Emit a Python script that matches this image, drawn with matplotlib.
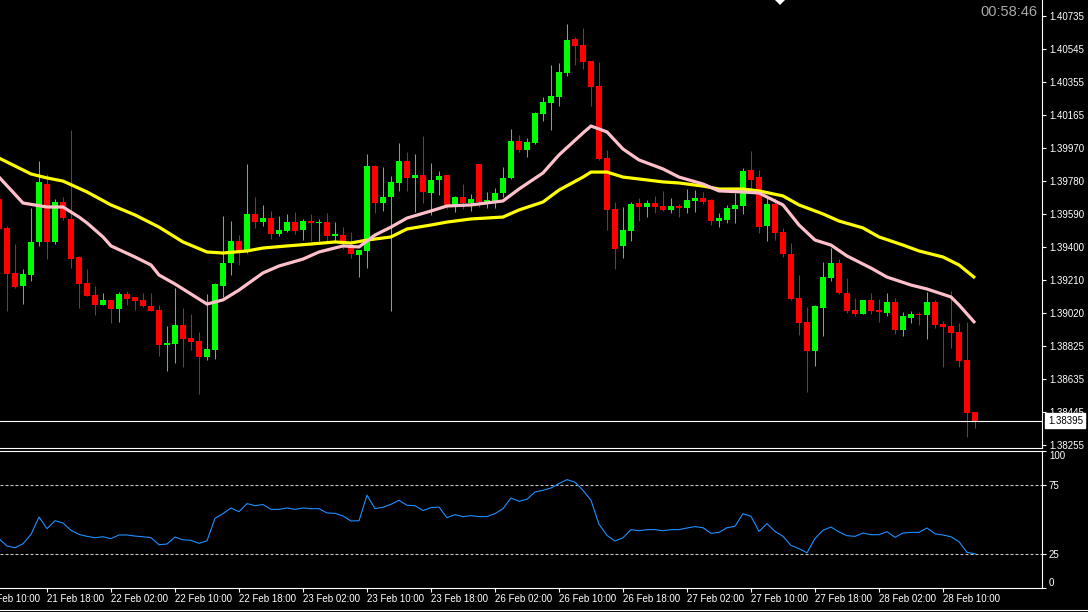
import matplotlib
matplotlib.use('Agg')
import matplotlib.pyplot as plt
from matplotlib.patches import Polygon
from matplotlib.lines import Line2D
from matplotlib.transforms import blended_transform_factory

plt.rcParams['font.family'] = ['Liberation Sans', 'DejaVu Sans']

# ---------------- data (H1 candles, 21 Feb 12:00 .. 28 Feb 14:00) ----------------
opens = [1.39677, 1.39510, 1.39250, 1.39174, 1.39238, 1.39429, 1.39764, 1.39429, 1.39660, 1.39562,
         1.39342, 1.39192, 1.39122, 1.39065, 1.39094, 1.39042, 1.39128, 1.39111, 1.39094, 1.39059,
         1.39036, 1.38833, 1.38839, 1.38949, 1.38874, 1.38857, 1.38764, 1.38805, 1.39174, 1.39307,
         1.39435, 1.39377, 1.39591, 1.39544, 1.39567, 1.39475, 1.39492, 1.39544, 1.39498, 1.39550,
         1.39539, 1.39544, 1.39463, 1.39469, 1.39400, 1.39354, 1.39377, 1.39868, 1.39654, 1.39689,
         1.39770, 1.39897, 1.39799, 1.39816, 1.39712, 1.39787, 1.39816, 1.39648, 1.39689, 1.39654,
         1.39880, 1.39660, 1.39666, 1.39712, 1.39799, 1.40013, 1.39961, 1.40001, 1.40169, 1.40232,
         1.40267, 1.40406, 1.40602, 1.40567, 1.40475, 1.40330, 1.39914, 1.39620, 1.39406, 1.39492,
         1.39654, 1.39631, 1.39654, 1.39637, 1.39614, 1.39637, 1.39625, 1.39666, 1.39683, 1.39672,
         1.39550, 1.39556, 1.39620, 1.39637, 1.39845, 1.39804, 1.39521, 1.39648, 1.39487, 1.39359,
         1.39105, 1.38966, 1.38799, 1.39047, 1.39221, 1.39307, 1.39134, 1.39036, 1.39013, 1.39094,
         1.39036, 1.39018, 1.39082, 1.38920, 1.38990, 1.39013, 1.39007, 1.39082, 1.38955, 1.38943,
         1.38909, 1.38747, 1.38446]
highs = [1.39700, 1.39521, 1.39417, 1.39273, 1.39625, 1.39897, 1.39822, 1.39677, 1.39689, 1.40076,
         1.39345, 1.39273, 1.39174, 1.39134, 1.39096, 1.39140, 1.39146, 1.39113, 1.39134, 1.39134,
         1.39065, 1.38943, 1.39163, 1.39047, 1.39013, 1.38909, 1.39128, 1.39192, 1.39579, 1.39550,
         1.39469, 1.39880, 1.39689, 1.39643, 1.39608, 1.39579, 1.39591, 1.39602, 1.39562, 1.39591,
         1.39562, 1.39596, 1.39544, 1.39515, 1.39487, 1.39385, 1.39937, 1.39874, 1.39862, 1.39810,
         1.40001, 1.39949, 1.39937, 1.40041, 1.39885, 1.39839, 1.39818, 1.39695, 1.39764, 1.39706,
         1.39882, 1.39718, 1.39741, 1.39862, 1.40082, 1.40047, 1.40030, 1.40180, 1.40267, 1.40452,
         1.40463, 1.40689, 1.40614, 1.40666, 1.40477, 1.40469, 1.39961, 1.39660, 1.39631, 1.39660,
         1.39683, 1.39672, 1.39695, 1.39724, 1.39683, 1.39648, 1.39735, 1.39729, 1.39718, 1.39677,
         1.39596, 1.39643, 1.39712, 1.39857, 1.39955, 1.39845, 1.39695, 1.39683, 1.39510, 1.39423,
         1.39238, 1.39053, 1.39065, 1.39313, 1.39394, 1.39330, 1.39221, 1.39105, 1.39096, 1.39134,
         1.39099, 1.39134, 1.39105, 1.39024, 1.39030, 1.39024, 1.39140, 1.39094, 1.38972, 1.39146,
         1.38961, 1.38966, 1.38448]
lows = [1.39487, 1.39030, 1.39165, 1.39070, 1.39203, 1.39406, 1.39330, 1.39417, 1.39556, 1.39278,
        1.39047, 1.39115, 1.39007, 1.39063, 1.38961, 1.38966, 1.39065, 1.39036, 1.39053, 1.39028,
        1.38770, 1.38683, 1.38729, 1.38706, 1.38805, 1.38550, 1.38747, 1.38753, 1.39111, 1.39238,
        1.39296, 1.39365, 1.39510, 1.39521, 1.39446, 1.39463, 1.39487, 1.39475, 1.39440, 1.39435,
        1.39435, 1.39435, 1.39429, 1.39388, 1.39336, 1.39226, 1.39278, 1.39596, 1.39608, 1.39030,
        1.39724, 1.39724, 1.39602, 1.39654, 1.39585, 1.39700, 1.39620, 1.39602, 1.39620, 1.39608,
        1.39631, 1.39625, 1.39625, 1.39689, 1.39795, 1.39949, 1.39920, 1.39995, 1.40128, 1.40076,
        1.40215, 1.40388, 1.40452, 1.40429, 1.40215, 1.39905, 1.39498, 1.39273, 1.39336, 1.39435,
        1.39550, 1.39573, 1.39596, 1.39608, 1.39596, 1.39573, 1.39596, 1.39602, 1.39648, 1.39527,
        1.39515, 1.39539, 1.39539, 1.39591, 1.39729, 1.39481, 1.39435, 1.39440, 1.39342, 1.39094,
        1.38891, 1.38562, 1.38712, 1.38885, 1.39203, 1.39130, 1.39018, 1.39001, 1.39011, 1.39013,
        1.38966, 1.39001, 1.38897, 1.38885, 1.38961, 1.38949, 1.38868, 1.38932, 1.38706, 1.38816,
        1.38706, 1.38302, 1.38354]
closes = [1.39504, 1.39244, 1.39169, 1.39244, 1.39429, 1.39776, 1.39429, 1.39660, 1.39567, 1.39330,
          1.39186, 1.39117, 1.39065, 1.39094, 1.39042, 1.39128, 1.39099, 1.39088, 1.39059, 1.39030,
          1.38833, 1.38845, 1.38949, 1.38868, 1.38851, 1.38764, 1.38810, 1.39186, 1.39307, 1.39435,
          1.39377, 1.39591, 1.39544, 1.39567, 1.39475, 1.39498, 1.39544, 1.39492, 1.39550, 1.39539,
          1.39544, 1.39463, 1.39475, 1.39435, 1.39359, 1.39383, 1.39868, 1.39654, 1.39689, 1.39776,
          1.39897, 1.39799, 1.39816, 1.39718, 1.39787, 1.39810, 1.39643, 1.39689, 1.39654, 1.39677,
          1.39660, 1.39672, 1.39712, 1.39799, 1.40013, 1.39961, 1.40007, 1.40174, 1.40238, 1.40273,
          1.40411, 1.40596, 1.40562, 1.40469, 1.40325, 1.39909, 1.39614, 1.39388, 1.39498, 1.39648,
          1.39631, 1.39654, 1.39631, 1.39614, 1.39637, 1.39625, 1.39672, 1.39683, 1.39660, 1.39550,
          1.39567, 1.39625, 1.39643, 1.39839, 1.39787, 1.39515, 1.39648, 1.39481, 1.39359, 1.39099,
          1.38961, 1.38799, 1.39059, 1.39226, 1.39307, 1.39134, 1.39030, 1.39013, 1.39094, 1.39030,
          1.39024, 1.39082, 1.38920, 1.39001, 1.39013, 1.39007, 1.39082, 1.38949, 1.38937, 1.38903,
          1.38741, 1.38440, 1.38395]

# slow moving average (yellow), read at bar indices
ma_slow_idx = [0, 4, 6, 8, 11, 14, 17, 20, 23, 26, 28, 31, 33, 36, 39, 42, 44, 46, 49, 51,
               54, 56, 59, 63, 65, 68, 70, 73, 74, 76, 78, 80, 83, 85, 88, 90, 93, 95, 98, 100,
               103, 105, 108, 110, 113, 115, 118, 120, 122]
ma_slow = [1.39914, 1.39822, 1.39799, 1.39781, 1.39718, 1.39643, 1.39585, 1.39515, 1.39429, 1.39371,
           1.39365, 1.39377, 1.39394, 1.39406, 1.39417, 1.39429, 1.39423, 1.39440, 1.39458, 1.39504,
           1.39527, 1.39544, 1.39562, 1.39573, 1.39614, 1.39660, 1.39729, 1.39804, 1.39833, 1.39833,
           1.39804, 1.39793, 1.39776, 1.39770, 1.39752, 1.39735, 1.39735, 1.39724, 1.39695, 1.39643,
           1.39591, 1.39550, 1.39510, 1.39458, 1.39411, 1.39377, 1.39342, 1.39296, 1.39221]

# fast moving average (pink), read at bar indices
ma_fast_idx = [0, 3, 6, 8, 10, 11, 13, 14, 17, 19, 20, 22, 24, 26, 28, 30, 33, 35, 38, 40,
               43, 45, 47, 49, 51, 54, 56, 59, 63, 65, 68, 70, 73, 74, 76, 78, 80, 83, 85, 88,
               90, 93, 95, 98, 100, 102, 104, 106, 109, 111, 114, 116, 119, 120, 122]
ma_fast = [1.39804, 1.39654, 1.39631, 1.39631, 1.39573, 1.39539, 1.39458, 1.39406, 1.39342, 1.39296,
           1.39238, 1.39186, 1.39128, 1.39070, 1.39094, 1.39151, 1.39250, 1.39290, 1.39330, 1.39371,
           1.39406, 1.39400, 1.39469, 1.39515, 1.39567, 1.39608, 1.39637, 1.39643, 1.39666, 1.39735,
           1.39828, 1.39932, 1.40059, 1.40099, 1.40065, 1.39966, 1.39903, 1.39851, 1.39804, 1.39764,
           1.39724, 1.39718, 1.39712, 1.39643, 1.39527, 1.39440, 1.39411, 1.39348, 1.39278, 1.39226,
           1.39180, 1.39157, 1.39111, 1.39065, 1.38961]

rsi = [36.0, 30.6, 29.4, 32.3, 39.1, 51.8, 43.3, 49.1, 47.4, 42.1,
       39.1, 37.7, 36.7, 37.4, 36.0, 38.7, 38.7, 37.9, 37.4, 36.7,
       31.6, 32.1, 37.2, 35.2, 34.8, 32.6, 34.5, 50.9, 54.3, 58.4,
       55.7, 61.6, 60.1, 60.9, 57.4, 57.4, 58.4, 57.4, 58.4, 57.9,
       57.9, 54.8, 54.5, 52.6, 48.9, 49.1, 67.7, 57.9, 58.9, 61.1,
       64.0, 60.4, 60.1, 56.5, 58.7, 59.1, 51.3, 53.5, 52.1, 52.8,
       52.1, 52.1, 54.3, 57.9, 65.7, 63.3, 64.8, 70.1, 71.3, 73.0,
       76.2, 79.1, 77.2, 71.3, 64.0, 46.5, 38.4, 34.3, 36.7, 42.6,
       41.8, 42.6, 42.6, 41.8, 42.6, 42.6, 43.8, 44.8, 44.0, 39.9,
       40.6, 44.0, 45.0, 54.3, 52.3, 41.3, 47.0, 41.3, 37.7, 31.1,
       28.7, 25.7, 36.2, 42.1, 44.5, 40.9, 38.2, 37.7, 40.1, 38.9,
       38.9, 41.1, 37.0, 40.1, 40.6, 40.6, 43.8, 39.6, 38.7, 37.4,
       33.8, 26.0, 25.0]

price_ticks = [1.40735, 1.40545, 1.40355, 1.40165, 1.39970, 1.39780, 1.39590, 1.39400,
               1.39210, 1.39020, 1.38825, 1.38635, 1.38445, 1.38255]
last_price = 1.38395
time_tick_idx = [6, 14, 22, 30, 38, 46, 54, 62, 70, 78, 86, 94, 102, 110, 118]
time_tick_labels = ['21 Feb 18:00', '22 Feb 02:00', '22 Feb 10:00', '22 Feb 18:00',
                    '23 Feb 02:00', '23 Feb 10:00', '23 Feb 18:00', '26 Feb 02:00',
                    '26 Feb 10:00', '26 Feb 18:00', '27 Feb 02:00', '27 Feb 10:00',
                    '27 Feb 18:00', '28 Feb 02:00', '28 Feb 10:00']
first_label_idx = -2
first_label = '21 Feb 10:00'
timer_text = '00:58:46'

# ---------------- figure ----------------
W, H = 1088, 612
fig = plt.figure(figsize=(W / 100, H / 100), dpi=100, facecolor='black')
ax = fig.add_axes([0, 1 - 448 / H, 1042 / W, 448 / H])
ax2 = fig.add_axes([0, 1 - 588 / H, 1042 / W, (588 - 451) / H])

for a in (ax, ax2):
    a.set_facecolor('black')
    a.spines['left'].set_visible(False)
    for s in ('right', 'bottom', 'top'):
        a.spines[s].set_color('white')
        a.spines[s].set_linewidth(0.8)
    a.yaxis.tick_right()
    a.tick_params(axis='y', colors='white', labelsize=7, length=3, width=0.8, pad=2)
    a.set_xlim(0.125, 130.375)
ax.spines['top'].set_visible(False)

# candles
x = list(range(len(opens)))
GREEN, RED = '#00ff00', '#ff0000'
cols = [GREEN if c >= o else RED for o, c in zip(opens, closes)]
ax.vlines(x, lows, highs, colors=cols, linewidth=0.75, zorder=2)
bottoms = [min(o, c) for o, c in zip(opens, closes)]
heights = [max(abs(c - o), 0.00006) for o, c in zip(opens, closes)]
ax.bar(x, heights, bottom=bottoms, width=0.64, color=cols, linewidth=0, zorder=3)

# moving averages
ax.plot(ma_slow_idx, ma_slow, color='#ffff00', linewidth=2.3, zorder=4, solid_capstyle='butt')
ax.plot(ma_fast_idx, ma_fast, color='#ffc0cb', linewidth=2.3, zorder=4, solid_capstyle='butt')

# current price line + label
ax.axhline(last_price, color='white', linewidth=0.8, zorder=5)
ax.set_ylim(1.382381, 1.408275)
ax.set_yticks(price_ticks)
ax.set_yticklabels([f'{v:.5f}' for v in price_ticks])
ax.set_xticks([])
tr = blended_transform_factory(ax.transAxes, ax.transData)
ax.annotate(f'{last_price:.5f}', xy=(1.0, last_price), xycoords=tr,
            xytext=(4.2, 0), textcoords='offset points', ha='left', va='center',
            fontsize=7, color='black', zorder=10, annotation_clip=False,
            bbox=dict(boxstyle='square,pad=0.25', facecolor='white', edgecolor='white'))

# RSI
ax2.plot(x, rsi, color='#1e90ff', linewidth=0.8, zorder=3)
for lvl in (75, 25):
    ax2.axhline(lvl, color='#c8c8c8', linewidth=0.8, linestyle=(0, (2.7, 1.8)), zorder=2)
ax2.set_ylim(0, 100)
ax2.set_yticks([0, 25, 75, 100])
ax2.set_yticklabels(['0', '25', '75', '100'])
ylbls = ax2.get_yticklabels()
ylbls[0].set_va('bottom')
ylbls[3].set_va('top')
ax2.set_xticks(time_tick_idx)
ax2.set_xticklabels(time_tick_labels)
ax2.tick_params(axis='x', colors='white', labelsize=7, length=3, width=0.8, pad=1.5)
for lbl in ax2.get_xticklabels():
    lbl.set_ha('left')
ax2.annotate(first_label, xy=(first_label_idx, 0), xycoords=('data', 'axes fraction'),
             xytext=(0, -4.5), textcoords='offset points', ha='left', va='top',
             fontsize=7, color='white', annotation_clip=False)

# timer and decorations
fig.text(1037 / W, 1 - 12 / H, timer_text, ha='right', va='center', color='#a8a8a8', fontsize=10.5)
tri = Polygon([(775 / W, 1.0), (785 / W, 1.0), (780 / W, 1 - 5 / H)], closed=True,
              transform=fig.transFigure, facecolor='white', edgecolor='none')
fig.patches.append(tri)
fig.add_artist(Line2D([0, 1], [1 - 610 / H, 1 - 610 / H], transform=fig.transFigure,
                      color='white', linewidth=0.8))

fig.savefig('out.png', dpi=100, facecolor='black')
